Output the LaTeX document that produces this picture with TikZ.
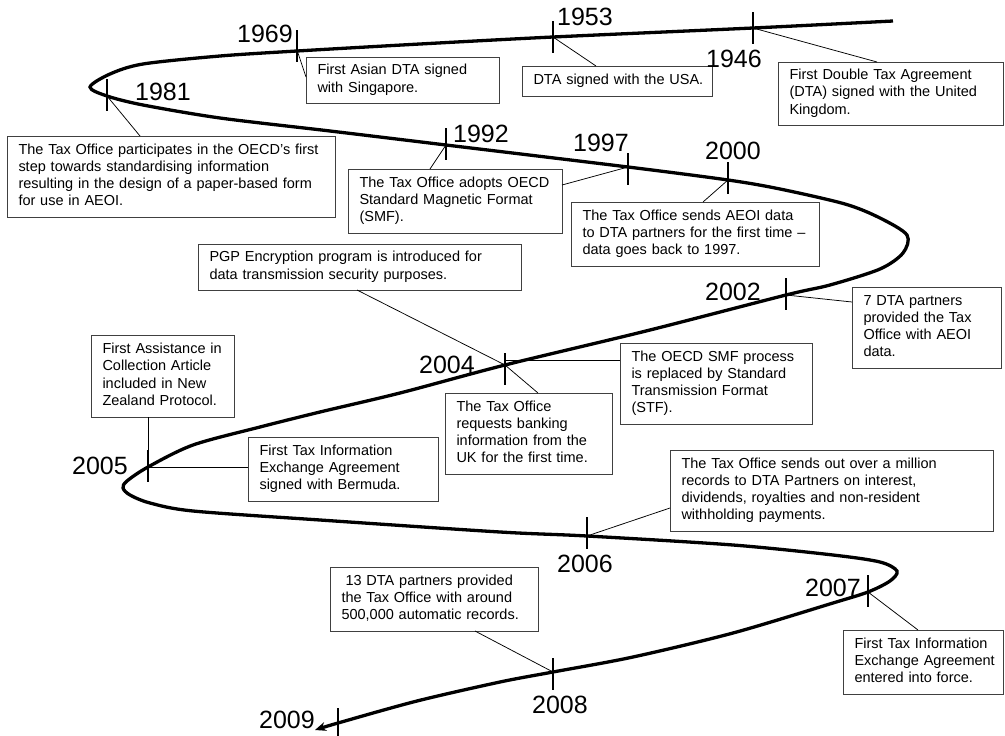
\documentclass[tikz,border=0pt]{standalone}
\usepackage{fontspec}
\setmainfont{Liberation Sans}
\usetikzlibrary{calc,arrows.meta}
\newcommand{\boxlines}[1]{\begin{tabular}{@{}l@{}}#1\end{tabular}}
\begin{document}
\begin{tikzpicture}[x=1pt,y=-1pt,
  infobox/.style={draw=black!75, line width=0.9pt, rectangle, anchor=north west,
    inner xsep=11.5pt, inner ysep=0pt, outer sep=0pt, align=left,
    font=\fontsize{14.5}{17.2}\selectfont},
  yearlbl/.style={font=\fontsize{25}{28}\selectfont, inner sep=0pt},
  tickmk/.style={rectangle, fill=black, draw=none, inner sep=0pt, outer sep=0pt,
    minimum width=2.8pt, minimum height=32pt},
  conn/.style={draw=black, line width=0.75pt},
  spiral/.style={draw=black, line width=3.3pt, line cap=butt,
    -{Stealth[length=11pt,width=9pt]}}]
\useasboundingbox[fill=white] (0,0) rectangle (1005,736);

% boxes
\node[infobox, text width=170pt, minimum height=46pt] (sing) at (306,57)
  {\boxlines{First Asian DTA signed\\with Singapore.}};
\node[infobox, text width=167pt, minimum height=30pt] (usa) at (522,66)
  {\boxlines{DTA signed with the USA.}};
\node[infobox, text width=202pt, minimum height=63pt] (uk) at (778,62)
  {\boxlines{First Double Tax Agreement\\(DTA) signed with the United\\Kingdom.}};
\node[infobox, text width=305pt, minimum height=81pt] (oecd) at (7,136)
  {\boxlines{The Tax Office participates in the OECD’s first\\step towards standardising information\\resulting in the design of a paper-based form\\for use in AEOI.}};
\node[infobox, text width=191pt, minimum height=64pt] (smf) at (348,169)
  {\boxlines{The Tax Office adopts OECD\\Standard Magnetic Format\\(SMF).}};
\node[infobox, text width=225pt, minimum height=64pt] (aeoi) at (571,202)
  {\boxlines{The Tax Office sends AEOI data\\to DTA partners for the first time –\\data goes back to 1997.}};
\node[infobox, text width=300pt, minimum height=46pt] (pgp) at (198,244)
  {\boxlines{PGP Encryption program is introduced for\\data transmission security purposes.}};
\node[infobox, text width=126pt, minimum height=81pt] (seven) at (852,287)
  {\boxlines{7 DTA partners\\provided the Tax\\Office with AEOI\\data.}};
\node[infobox, text width=120pt, minimum height=82pt] (assist) at (91,335)
  {\boxlines{First Assistance in\\Collection Article\\included in New\\Zealand Protocol.}};
\node[infobox, text width=167pt, minimum height=64pt] (berm) at (248,437)
  {\boxlines{First Tax Information\\Exchange Agreement\\signed with Bermuda.}};
\node[infobox, text width=144pt, minimum height=81pt] (bank) at (445,393)
  {\boxlines{The Tax Office\\requests banking\\information from the\\UK for the first time.}};
\node[infobox, text width=169pt, minimum height=81pt] (stf) at (620,343)
  {\boxlines{The OECD SMF process\\is replaced by Standard\\Transmission Format\\(STF).}};
\node[infobox, text width=300pt, minimum height=81pt] (million) at (670,450)
  {\boxlines{The Tax Office sends out over a million\\records to DTA Partners on interest,\\dividends, royalties and non-resident\\withholding payments.}};
\node[infobox, text width=185pt, minimum height=64pt] (thirteen) at (330,567)
  {\boxlines{\hspace*{4pt}13 DTA partners provided\\the Tax Office with around\\500,000 automatic records.}};
\node[infobox, text width=137pt, minimum height=64pt] (force) at (843,630)
  {\boxlines{First Tax Information\\Exchange Agreement\\entered into force.}};

% tick positions
\coordinate (c1946) at (753,28);
\coordinate (c1953) at (553,37);
\coordinate (c1969) at (297,50);
\coordinate (c1981) at (107,96);
\coordinate (c1992) at (446,145);
\coordinate (c1997) at (628,167);
\coordinate (c2000) at (728,180);
\coordinate (c2002) at (786,295);
\coordinate (c2004) at (505,365);
\coordinate (c2005) at (148,467);
\coordinate (c2006) at (587,536);
\coordinate (c2007) at (868,592);
\coordinate (c2008) at (553,672);
\coordinate (c2009) at (338,723);

% connectors
\coordinate (stfin) at ($(stf.north west)+(0,17)$);
\draw[conn] (c1969) -- ($(sing.north west)+(0,20)$);
\draw[conn] (c1953) -- ($(usa.north west)+(74,0)$);
\draw[conn] (c1946) -- ($(uk.north west)+(99,0)$);
\draw[conn] (c1981) -- ($(oecd.north west)+(133,0)$);
\draw[conn] (c1992) -- ($(smf.north west)+(82,0)$);
\draw[conn] (c1997) -- ($(smf.north east)+(0,16)$);
\draw[conn] (c2000) -- ($(aeoi.north west)+(132,0)$);
\draw[conn] (c2002) -- ($(seven.north west)+(0,15)$);
\draw[conn] ($(pgp.south west)+(159,0)$) -- (c2004);
\draw[conn] (c2004 |- stfin) -- (stfin);
\draw[conn] (c2004) -- ($(bank.north west)+(93,0)$);
\draw[conn] (c2005 |- assist.south) -- (c2005);
\draw[conn] (c2005) -- (c2005 -| berm.west);
\draw[conn] (c2006) -- ($(million.north west)+(0,58)$);
\draw[conn] (c2007) -- ($(force.north west)+(75,0)$);
\draw[conn] ($(thirteen.south west)+(145,0)$) -- (c2008);

% spiral
\draw[spiral] plot[smooth, tension=0.5] coordinates {
  (893,21) (753,28) (553,37) (420,44) (297,51) (220,56) (143,64) (110,74)
  (90,87) (107,96) (143,105) (220,118) (330,131) (446,145) (628,167) (728,180)
  (780,189) (845,204) (880,218) (907,235) (903,253) (880,269) (830,285) (786,295)
  (646,331) (505,365) (400,393) (320,412) (260,427) (193,445) (148,467)
  (127,481) (123,488) (130,495) (150,503) (193,511) (320,520) (500,532) (587,536)
  (733,545) (833,555) (880,562) (897,571) (890,581) (868,592) (833,603) (733,633)
  (633,657) (553,672) (500,682) (417,701) (338,723) (315,730)};

% ticks
\foreach \y/\dy in {1946/0,1953/0,1969/-4,1981/-1,1992/-1,1997/2,2000/-2,2002/-1,2004/4,2005/-1,2006/-3,2007/-1,2008/2,2009/1} {
  \node[tickmk] (k\y) at ($(c\y)+(0,\dy)$) {};
}

% year labels
\node[yearlbl] (y1969) at (265,34) {1969};
\node[yearlbl] (y1953) at (585,17) {1953};
\node[yearlbl] (y1946) at (734,59) {1946};
\node[yearlbl] (y1981) at (163,92) {1981};
\node[yearlbl] (y1992) at (481,134) {1992};
\node[yearlbl] (y1997) at (601,143) {1997};
\node[yearlbl] (y2000) at (733,151) {2000};
\node[yearlbl] (y2002) at (733,292) {2002};
\node[yearlbl] (y2004) at (447,365) {2004};
\node[yearlbl] (y2005) at (100,466) {2005};
\node[yearlbl] (y2006) at (585,564) {2006};
\node[yearlbl] (y2007) at (833,588) {2007};
\node[yearlbl] (y2008) at (560,705) {2008};
\node[yearlbl] (y2009) at (287,720) {2009};
\end{tikzpicture}
\end{document}
